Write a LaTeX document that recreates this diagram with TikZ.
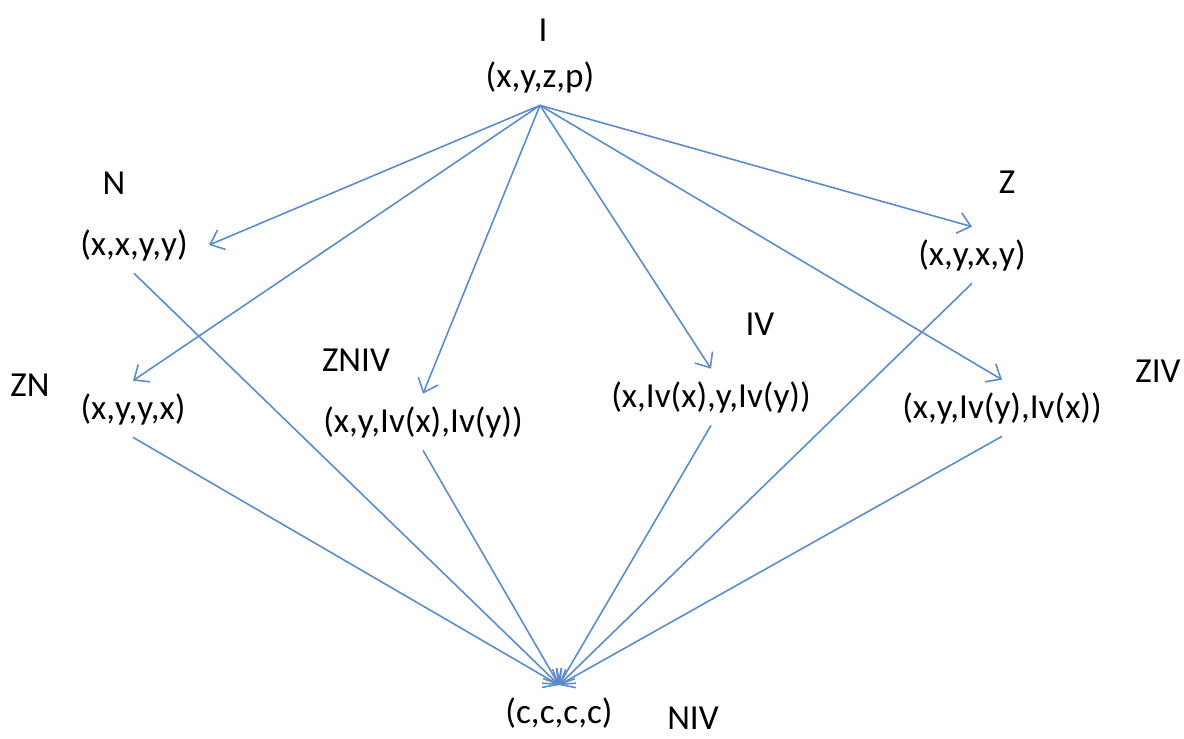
\documentclass[tikz,border=0pt]{standalone}
\usepackage{fontspec}
\setmainfont{Carlito}
\usepackage{xcolor}
\usetikzlibrary{arrows.meta,positioning}

\definecolor{linkblue}{RGB}{91,139,200}

\begin{document}
\begin{tikzpicture}[
    x=0.02cm, y=-0.02cm,
    >={Straight Barb[length=7pt,width=12pt]},
    tuple/.style={
        inner sep=7pt, font=\fontsize{20}{24}\selectfont
    },
    tag/.style={
        inner sep=1pt, font=\fontsize{20}{24}\selectfont
    },
    flow/.style={
        ->, draw=linkblue, line width=0.9pt
    }
]
\useasboundingbox (0,0) rectangle (1184,738);

% — Top element —
\node[tag]   (I_tag)  at (543,30)  {I};
\node[tuple] (I)      at (540,77)  {(x,y,z,p)};

% — Middle elements —
\node[tag]   (N_tag)  at (114,183) {N};
\node[tuple] (N)      at (134,245) {(x,x,y,y)};

\node[tag]   (Z_tag)  at (1007,182) {Z};
\node[tuple] (Z)      at (972,255) {(x,y,x,y)};

\node[tag]   (ZN_tag) at (30,385)  {ZN};
\node[tuple] (ZN)     at (133,409) {(x,y,y,x)};

\node[tag]   (ZNIV_tag) at (356,360) {ZNIV};
\node[tuple] (ZNIV)     at (423,422) {(x,y,Iv(x),Iv(y))};

\node[tag]   (IV_tag) at (760,324) {IV};
\node[tuple] (IV)     at (711,397) {(x,Iv(x),y,Iv(y))};

\node[tag]   (ZIV_tag) at (1158,371) {ZIV};
\node[tuple] (ZIV)     at (1002,408) {(x,y,Iv(y),Iv(x))};

% — Bottom element —
\node[tuple] (NIV)     at (559,713) {(c,c,c,c)};
\node[tag]   (NIV_tag) at (693,718) {NIV};

% — Arrows from the top —
\draw[flow] (I.south) -- ([xshift=5pt]N.east);
\draw[flow] (I.south) -- (ZN.north);
\draw[flow] (I.south) -- (ZNIV.north);
\draw[flow] (I.south) -- (IV.north);
\draw[flow] (I.south) -- (Z.north);
\draw[flow] (I.south) -- (ZIV.north);

% — Arrows to the bottom —
\foreach \src in {N,ZN,ZNIV,IV,Z,ZIV}
    \draw[flow] (\src.south) -- (NIV.north);

\end{tikzpicture}
\end{document}
